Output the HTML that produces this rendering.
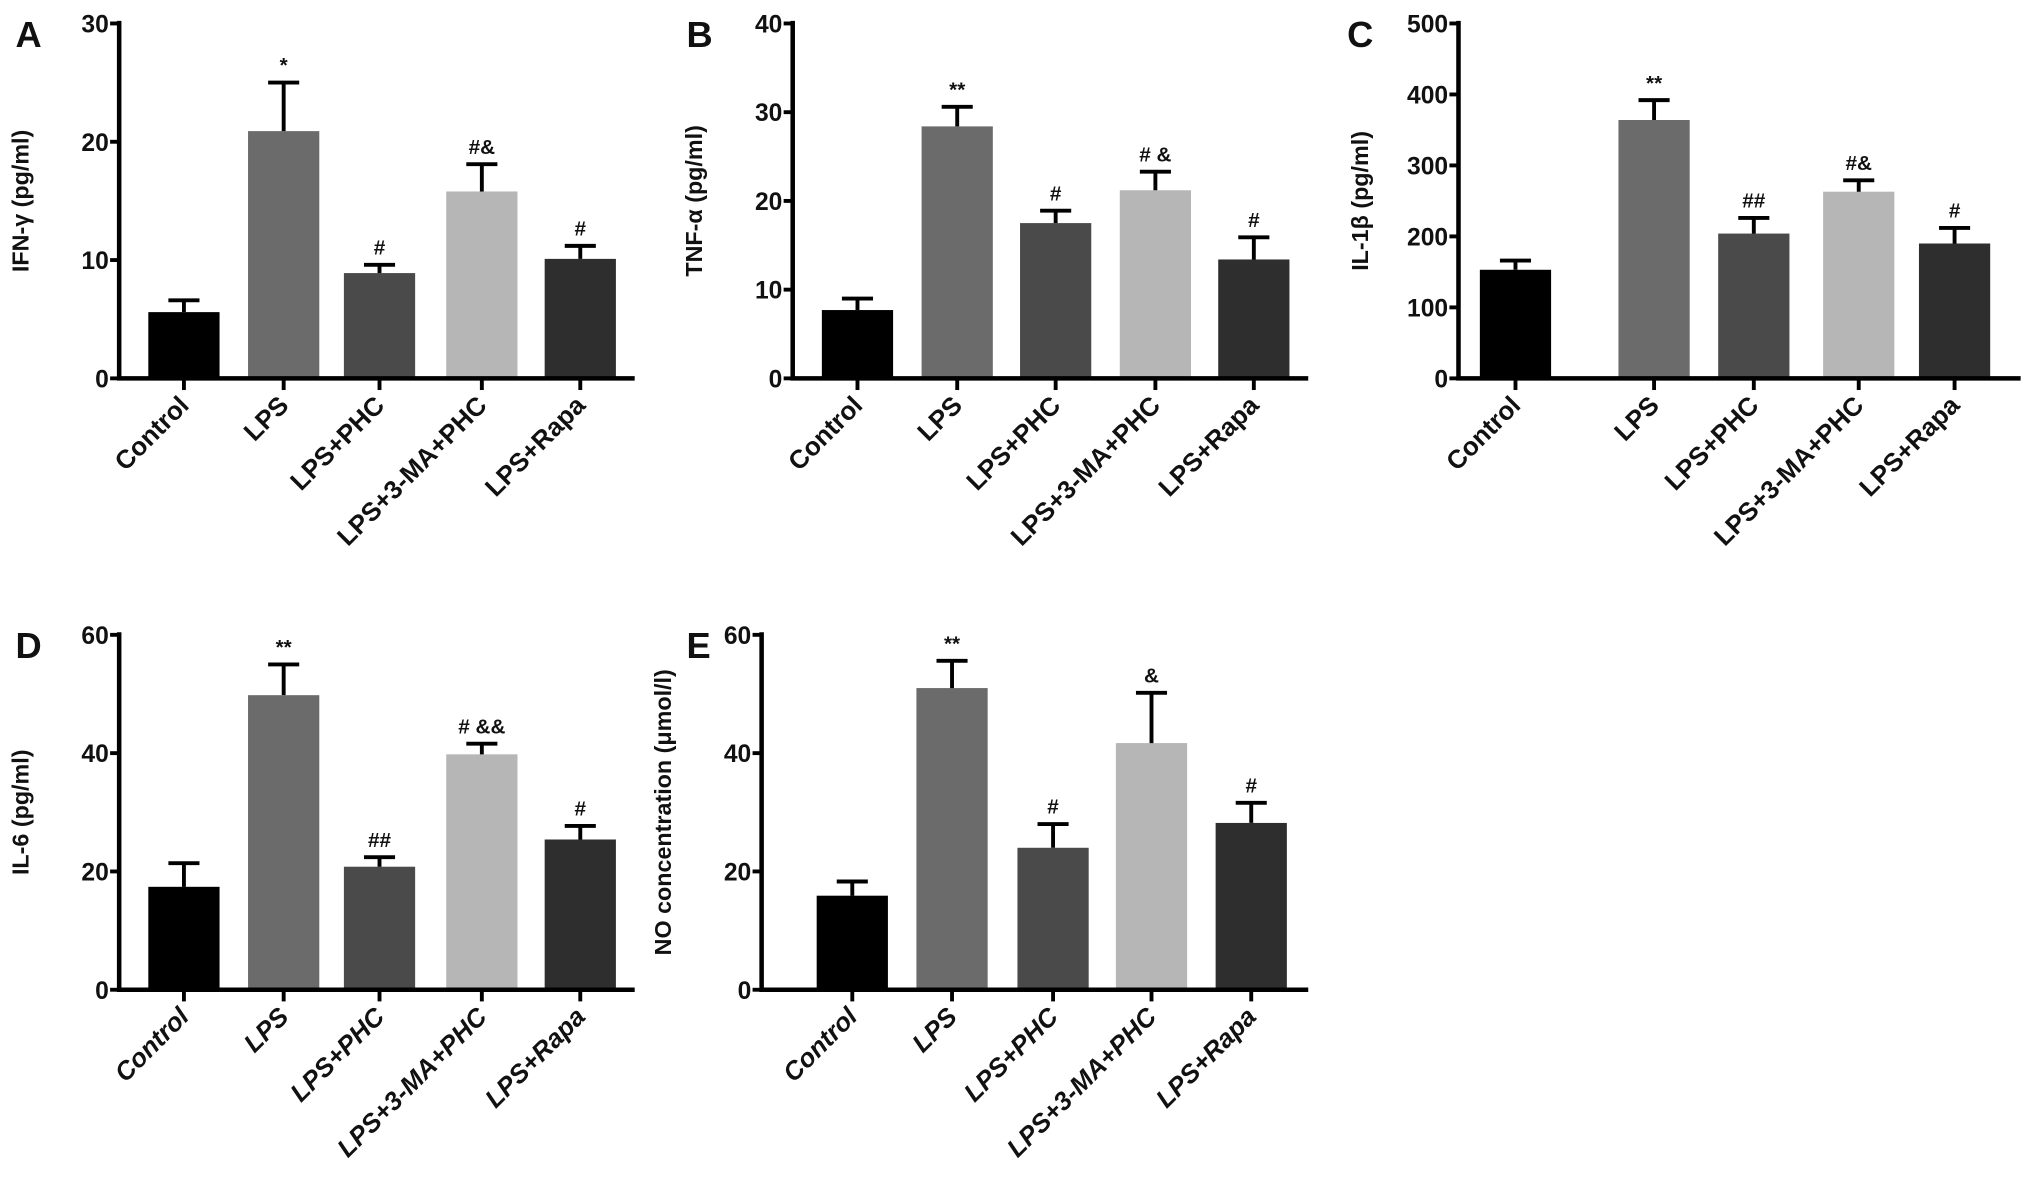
<!DOCTYPE html>
<html><head><meta charset="utf-8"><style>
html,body{margin:0;padding:0;background:#fff}
svg{display:block}
text{font-family:"Liberation Sans",Arial,sans-serif;font-weight:bold;fill:#111}
</style></head><body>
<svg id="fig" width="2031" height="1179" viewBox="0 0 1568 910" xmlns="http://www.w3.org/2000/svg"></svg>
<script>
const categories = ["Control","LPS","LPS+PHC","LPS+3-MA+PHC","LPS+Rapa"];
const colors = ["#000000","#6b6b6b","#4a4a4a","#b6b6b6","#2e2e2e"];
const aVals = [5.6,20.9,8.9,15.8,10.1];
const aErr = [1.0,4.1,0.7,2.3,1.1];
const aMarks = ["","*","#","#&","#"];
const aTicks = [0,10,20,30];
const bVals = [7.7,28.4,17.5,21.2,13.4];
const bErr = [1.3,2.2,1.4,2.1,2.5];
const bMarks = ["","**","#","# &","#"];
const bTicks = [0,10,20,30,40];
const cVals = [153,364,204,263,190];
const cErr = [13,28,22,16,22];
const cMarks = ["","**","##","#&","#"];
const cTicks = [0,100,200,300,400,500];
const dVals = [17.4,49.8,20.8,39.8,25.4];
const dErr = [4.0,5.2,1.6,1.8,2.3];
const dMarks = ["","**","##","# &&","#"];
const dTicks = [0,20,40,60];
const eVals = [15.9,51.0,24.0,41.7,28.2];
const eErr = [2.4,4.6,4.0,8.5,3.4];
const eMarks = ["","**","#","&","#"];
const eTicks = [0,20,40,60];

const NS="http://www.w3.org/2000/svg";
const svg=document.getElementById('fig');
function mk(tag,attrs,parent){const e=document.createElementNS(NS,tag);for(const k in attrs)e.setAttribute(k,attrs[k]);(parent||svg).appendChild(e);return e;}

function panel(id,letter,title,vals,errs,marks,ticks,ax,axEnd,top,zero,centers,italic,letterX){
  const g=mk('g',{});
  
  
  const ymax=ticks[ticks.length-1];
  const y=v=>zero-(v/ymax)*(zero-top);
  const L=mk('text',{x:letterX,y:top+18,'font-size':28},g);L.textContent=letter;
  
  
  const t=mk('text',{transform:`translate(${ax-70},${(top+zero)/2}) rotate(-90)`,'text-anchor':'middle','font-size':18},g);
  t.textContent=title;
  
  
  const bw=55;
  vals.forEach((v,i)=>{
    const cx=centers[i];
    const r=mk('rect',{x:cx-bw/2,y:y(v),width:bw,height:zero-y(v),fill:colors[i]},g);
    
    
    const ye=y(v+errs[i]);
    const el=mk('path',{d:`M${cx} ${y(v)}V${ye}M${cx-12} ${ye}H${cx+12}`,stroke:'#000','stroke-width':3,fill:'none'},g);
    
    
    if(marks[i]){const m=mk('text',{x:cx,y:ye-8,'text-anchor':'middle','font-size':16},g);m.textContent=marks[i];
      
      }
    mk('line',{x1:cx,x2:cx,y1:zero,y2:zero+9,stroke:'#000','stroke-width':3},g);
    const c=mk('text',{transform:`translate(${cx+5},${zero+22}) rotate(-45)`,'text-anchor':'end','font-size':20,'font-style':italic?'italic':'normal'},g);
    c.textContent=categories[i];
    
    
  });
  ticks.forEach(tv=>{
    mk('line',{x1:ax-7,x2:ax,y1:y(tv),y2:y(tv),stroke:'#000','stroke-width':3},g);
    const tl=mk('text',{x:ax-8,y:y(tv)+7,'text-anchor':'end','font-size':19},g);tl.textContent=tv;
    
    
  });
  const axes=mk('path',{d:`M${ax} ${top-2}V${zero}H${axEnd}`,stroke:'#000','stroke-width':3.5,fill:'none'},g);
  
  
}
panel('a','A','IFN-γ (pg/ml)',aVals,aErr,aMarks,aTicks,92,490,18,292,[142,219,293,372,448],false,12);
panel('b','B','TNF-α  (pg/ml)',bVals,bErr,bMarks,bTicks,612,1010,18,292,[662,739,815,892,968],false,530);
panel('c','C','IL-1β (pg/ml)',cVals,cErr,cMarks,cTicks,1126,1560,18,292,[1170,1277,1354,1435,1509],false,1040);
panel('d','D','IL-6  (pg/ml)',dVals,dErr,dMarks,dTicks,92,490,490,764,[142,219,293,372,448],true,12);
panel('e','E','NO concentration (μmol/l)',eVals,eErr,eMarks,eTicks,588,1010,490,764,[658,735,813,889,966],true,530);
</script>
</body></html>
